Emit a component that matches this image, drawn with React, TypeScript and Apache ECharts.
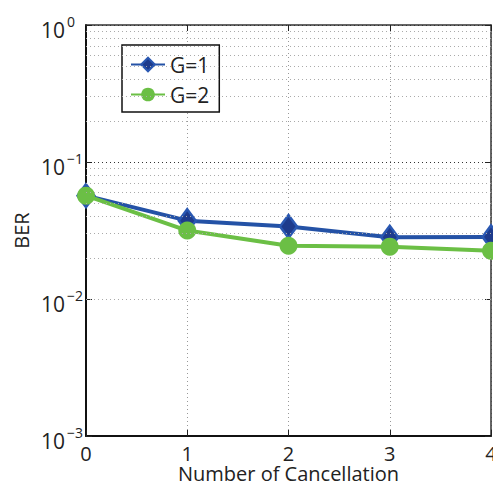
import React, { useEffect, useRef } from "react";
import * as echarts from "echarts";

// Number of cancellation stages on the horizontal axis
const cancellations = [0, 1, 2, 3, 4];
// Bit error rate per stage for each group size
const berG1 = [0.0568, 0.0373, 0.0338, 0.0282, 0.0284];
const berG2 = [0.0568, 0.0316, 0.0245, 0.0241, 0.0225];
// Decades shown on the log axis
const decadeExponents = [-3, -2, -1, 0];

const FONT = "'Open Sans', 'Noto Sans', sans-serif";

// Minor grid positions (2..9 times each decade)
const minorGridValues: number[] = [];
for (let i = 0; i < decadeExponents.length - 1; i++) {
  for (let k = 2; k <= 9; k++) {
    minorGridValues.push(k * Math.pow(10, decadeExponents[i]));
  }
}

export default function App() {
  const ref = useRef<HTMLDivElement>(null);

  useEffect(() => {
    document.body.style.margin = "0";
    if (!ref.current) return;
    const chart = echarts.init(ref.current, null, { renderer: "svg" });

    const yMin = Math.pow(10, decadeExponents[0]);
    const yMax = Math.pow(10, decadeExponents[decadeExponents.length - 1]);

    const frameTick = { show: true, inside: true, length: 6, lineStyle: { color: "#222", width: 1 } };

    chart.setOption({
      animation: false,
      backgroundColor: "#fff",
      grid: { left: 86, top: 25, right: 2, bottom: 51, containLabel: false, outerBoundsMode: "none" },
      legend: {
        data: ["G=1", "G=2"],
        orient: "vertical",
        left: 122,
        top: 45,
        itemWidth: 34,
        itemHeight: 17,
        itemGap: 9,
        padding: [9, 10, 7, 8],
        borderColor: "#111",
        borderWidth: 1.5,
        backgroundColor: "#fff",
        textStyle: { fontFamily: FONT, fontSize: 21, color: "#222" },
      },
      xAxis: [
        {
          type: "value",
          min: 0,
          max: 4,
          interval: 1,
          name: "Number of Cancellation",
          nameLocation: "middle",
          nameGap: 28,
          nameMoveOverlap: false,
          nameTextStyle: { fontFamily: FONT, fontSize: 20, lineHeight: 18, color: "#222" },
          axisLine: { show: true, onZero: false, lineStyle: { color: "#111", width: 2 } },
          axisTick: frameTick,
          axisLabel: {
            fontFamily: FONT,
            fontSize: 20,
            lineHeight: 16,
            color: "#222",
            margin: 9,
            showMaxLabel: true,
          },
          splitLine: { show: true, lineStyle: { color: "#999", type: [1, 3], width: 1 } },
        },
        {
          type: "value",
          position: "top",
          min: 0,
          max: 4,
          interval: 1,
          axisLine: { show: true, onZero: false, lineStyle: { color: "#333", width: 1.5 } },
          axisTick: frameTick,
          axisLabel: { show: false },
          splitLine: { show: false },
        },
      ],
      yAxis: [
        {
          type: "log",
          logBase: 10,
          min: yMin,
          max: yMax,
          name: "BER",
          nameLocation: "middle",
          nameGap: 55,
          nameMoveOverlap: false,
          nameTextStyle: { fontFamily: FONT, fontSize: 20, color: "#222" },
          axisLine: { show: true, onZero: false, lineStyle: { color: "#111", width: 2 } },
          axisTick: frameTick,
          axisLabel: {
            align: "left",
            margin: 45,
            formatter: (v: number) => {
              const e = Math.round(Math.log10(v));
              return `{b|10}{s|${e < 0 ? "\u2212" + -e : e}}`;
            },
            rich: {
              b: { fontFamily: FONT, fontSize: 21, color: "#222", padding: [10, 0, 0, 0] },
              s: { fontFamily: FONT, fontSize: 14, color: "#222", padding: [0, 0, 8, 2] },
            },
          },
          splitLine: { show: true, lineStyle: { color: "#333", type: [1, 3], width: 1 } },
        },
        {
          type: "log",
          logBase: 10,
          position: "right",
          min: yMin,
          max: yMax,
          axisLine: { show: true, onZero: false, lineStyle: { color: "#333", width: 1.5 } },
          axisTick: frameTick,
          axisLabel: { show: false },
          splitLine: { show: false },
        },
      ],
      series: [
        {
          name: "minor-grid",
          type: "line",
          data: [],
          silent: true,
          z: 1,
          markLine: {
            silent: true,
            symbol: ["none", "none"],
            label: { show: false },
            lineStyle: { color: "#aaa", type: [1, 3], width: 1 },
            data: minorGridValues.map((v) => ({ yAxis: v })),
          },
        },
        {
          name: "G=1",
          type: "line",
          data: cancellations.map((x, i) => [x, berG1[i]]),
          z: 3,
          symbol: "diamond",
          symbolSize: [17, 23],
          lineStyle: { color: "#2452a6", width: 4 },
          itemStyle: { color: "#1e3b8c", borderColor: "#2a58b2", borderWidth: 2.5 },
        },
        {
          name: "G=2",
          type: "line",
          data: cancellations.map((x, i) => [x, berG2[i]]),
          z: 4,
          symbol: "circle",
          symbolSize: 18,
          lineStyle: { color: "#6bbf45", width: 4 },
          itemStyle: { color: "#6bbf45" },
        },
      ],
    });

    return () => chart.dispose();
  }, []);

  return <div ref={ref} style={{ width: 493, height: 487 }} />;
}
